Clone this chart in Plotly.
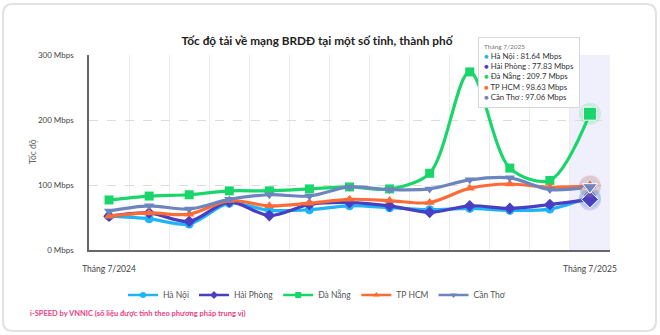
import plotly.graph_objects as go

months = ["Tháng 7/2024", "Tháng 8/2024", "Tháng 9/2024", "Tháng 10/2024", "Tháng 11/2024",
          "Tháng 12/2024", "Tháng 1/2025", "Tháng 2/2025", "Tháng 3/2025", "Tháng 4/2025",
          "Tháng 5/2025", "Tháng 6/2025", "Tháng 7/2025"]

ha_noi = [52, 48, 40, 72, 61, 62, 68, 65, 62, 64, 61, 63, 81.64]
hai_phong = [52, 57, 44, 74, 53, 70, 73, 68, 58, 68, 64, 70, 77.83]
da_nang = [77, 83, 85, 91, 91, 94, 97, 94, 118, 274, 126, 107, 209.7]
tp_hcm = [52, 57, 55, 76, 68, 72, 78, 76, 73, 95, 101.5, 96.5, 98.63]
can_tho = [60, 68, 63, 78, 85, 83, 97, 93, 94, 108, 111, 93, 97.06]

y_ticks = [0, 100, 200, 300]
y_tick_labels = ["0 Mbps", "100 Mbps", "200 Mbps", "300 Mbps"]

series = [
    ("Hà Nội", ha_noi, "#1fb3f8", "circle"),
    ("Hải Phòng", hai_phong, "#4a3ec2", "diamond"),
    ("Đà Nẵng", da_nang, "#19d66a", "square"),
    ("TP HCM", tp_hcm, "#ff6b35", "triangle-up"),
    ("Cần Thơ", can_tho, "#6d85bf", "triangle-down"),
]

FONT = "Lato"
x = list(range(len(months)))
last = len(months) - 1

W, H = 660, 335
L, R, T, B = 89, 50, 55, 85
pw, ph = W - L - R, H - T - B
def px(xp):
    return (xp - L) / pw
def py(yp):
    return (H - B - yp) / ph

fig = go.Figure()

# highlighted last category band (axis pointer)
fig.add_shape(type="rect", xref="x", yref="y", x0=last - 0.5, x1=last + 0.5, y0=0, y1=300,
              fillcolor="rgba(225,228,250,0.55)", line_width=0, layer="below")

for name, vals, color, sym in series:
    fig.add_trace(go.Scatter(
        x=x, y=vals, name=name, mode="lines+markers", showlegend=False,
        line=dict(color=color, width=3.2, shape="spline", smoothing=0.9),
        marker=dict(symbol=sym, size=9, color=color),
        hoverinfo="skip",
    ))

# legend entries (smaller symbols, like the original)
for name, vals, color, sym in series:
    fig.add_trace(go.Scatter(
        x=[None], y=[None], name=name, mode="lines+markers",
        line=dict(color=color, width=2.5), marker=dict(symbol=sym, size=6, color=color),
    ))

# emphasis halo on the hovered (last) category
for name, vals, color, sym in series:
    fig.add_trace(go.Scatter(
        x=[x[last]], y=[vals[last]], mode="markers", showlegend=False, hoverinfo="skip",
        marker=dict(symbol="circle", size=22, color=color, opacity=0.18),
    ))
    fig.add_trace(go.Scatter(
        x=[x[last]], y=[vals[last]], mode="markers", showlegend=False, hoverinfo="skip",
        marker=dict(symbol=sym, size=13, color=color, line=dict(color="white", width=1)),
    ))

# tooltip
lines = [f"<span style='color:#777;font-size:6.5px'>{months[last]}</span>"]
for name, vals, color, sym in series:
    lines.append(f"<span style='color:{color}'>●</span> {name} : {vals[last]} Mbps")
fig.add_annotation(
    xref="paper", yref="paper", x=px(478), y=py(37),
    xanchor="left", yanchor="top", align="left", showarrow=False,
    text="<br>".join(lines), font=dict(family=FONT, size=7.8, color="#333"),
    bgcolor="white", bordercolor="#d8d8d8", borderwidth=1, borderpad=5,
)

# y-axis title
fig.add_annotation(
    xref="paper", yref="paper", x=px(33), y=py(152), xanchor="center", yanchor="middle",
    showarrow=False, text="Tốc độ", textangle=-90,
    font=dict(family=FONT, size=8.5, color="#666"),
)

# card border
x0, x1, y0, y1, r = 3, 656, 4, 331, 10
path = (f"M {px(x0 + r)} {py(y0)} L {px(x1 - r)} {py(y0)} Q {px(x1)} {py(y0)} {px(x1)} {py(y0 + r)} "
        f"L {px(x1)} {py(y1 - r)} Q {px(x1)} {py(y1)} {px(x1 - r)} {py(y1)} "
        f"L {px(x0 + r)} {py(y1)} Q {px(x0)} {py(y1)} {px(x0)} {py(y1 - r)} "
        f"L {px(x0)} {py(y0 + r)} Q {px(x0)} {py(y0)} {px(x0 + r)} {py(y0)} Z")
fig.add_shape(type="path", xref="paper", yref="paper", path=path,
              line=dict(color="#e2e2e2", width=2), fillcolor="rgba(0,0,0,0)", layer="below")

# footer
fig.add_annotation(
    xref="paper", yref="paper", x=px(28), y=py(313), xanchor="left", yanchor="middle",
    showarrow=False, text="<b>i-SPEED by VNNIC (số liệu được tính theo phương pháp trung vị)</b>",
    font=dict(family=FONT, size=7.5, color="#ec3d84"),
)

fig.update_layout(
    width=W, height=H,
    margin=dict(l=L, r=R, t=T, b=B),
    paper_bgcolor="white", plot_bgcolor="white",
    font=dict(family=FONT, color="#555"),
    title=dict(text="Tốc độ tải về mạng BRDĐ tại một số tỉnh, thành phố",
               x=317 / W, xanchor="center", y=1 - 41 / H, yanchor="middle",
               font=dict(family=FONT, size=11.8, color="#222", weight=700)),
    showlegend=True,
    legend=dict(orientation="h", x=px(317), xanchor="center", y=py(295), yanchor="middle",
                font=dict(family=FONT, size=8.5, color="#555"), itemwidth=30,
                bgcolor="rgba(0,0,0,0)"),
    hovermode=False,
)

fig.update_xaxes(
    range=[-0.5, last + 0.5], tickvals=[x[0], x[last]], ticktext=[months[0], months[last]],
    showgrid=False, zeroline=False, showline=True, linecolor="#666", linewidth=1.5,
    ticks="", ticklabelstandoff=10, tickfont=dict(family=FONT, size=8.5, color="#444"),
    minor=dict(tick0=-0.5, dtick=1, showgrid=True, gridcolor="#ececec", gridwidth=1),
)
fig.update_yaxes(
    range=[0, 300], tickvals=y_ticks, ticktext=y_tick_labels,
    showgrid=True, gridcolor="#dcdcdc", griddash="dash", gridwidth=1,
    zeroline=False, showline=True, linecolor="#666", linewidth=1.5,
    ticks="", ticklabelstandoff=12, tickfont=dict(family=FONT, size=8, color="#444"),
)

fig.write_html("out.html")
